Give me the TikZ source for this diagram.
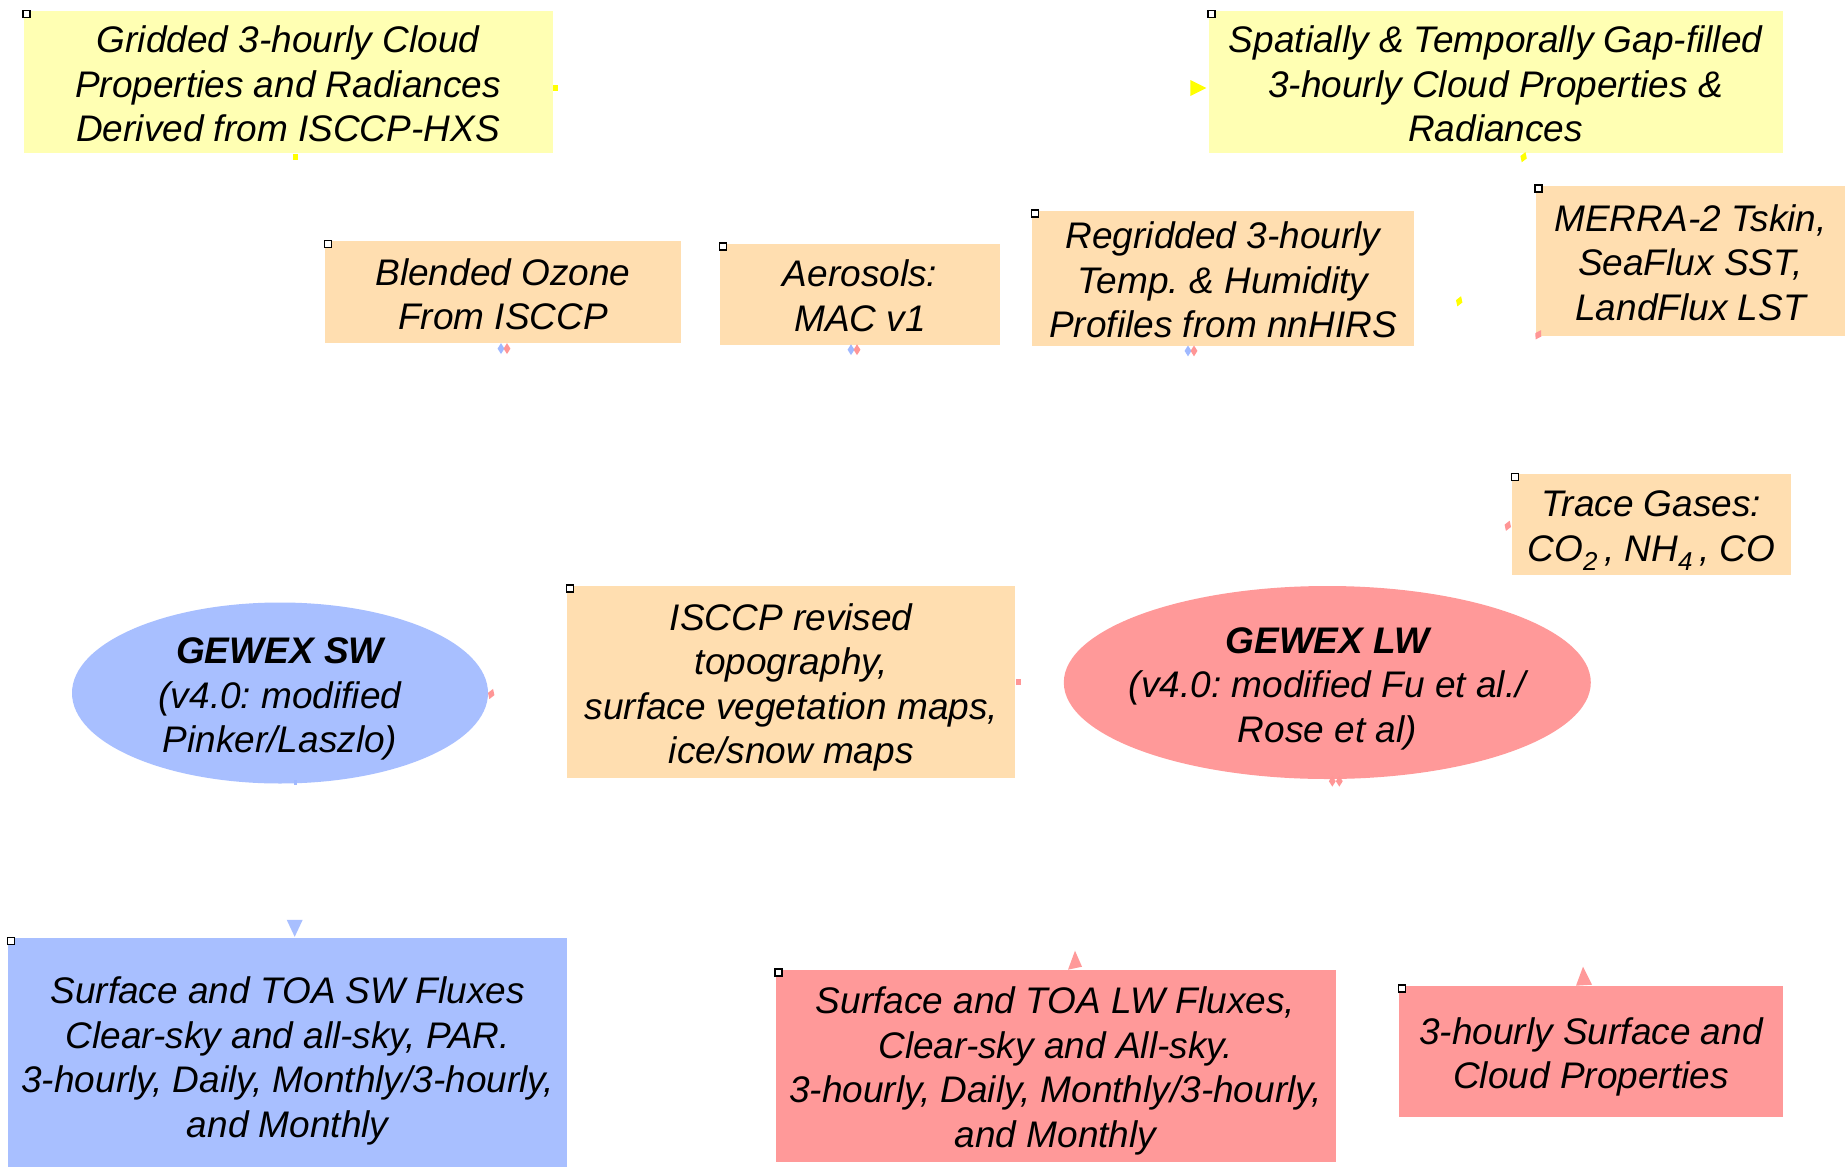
\documentclass[tikz,border=0pt]{standalone}
\usepackage{fontspec}
\setmainfont{Liberation Sans}
\usetikzlibrary{calc,shapes.geometric}
\definecolor{boxyellow}{RGB}{255,255,179}
\definecolor{boxorange}{RGB}{255,222,176}
\definecolor{boxblue}{RGB}{168,191,255}
\definecolor{boxpink}{RGB}{255,153,153}
\definecolor{mkyellow}{RGB}{255,255,0}
\definecolor{mkpink}{RGB}{255,150,150}
\definecolor{mkblue}{RGB}{160,185,255}
\newcommand{\tstrut}{\rule{0pt}{38pt}}
\newcommand{\bstrut}{\rule[-7.8pt]{0pt}{0pt}}
\frenchspacing
\tikzset{
  txt/.style={font=\fontsize{37}{44.5}\selectfont\itshape\frenchspacing, align=center, text=black},
  databox/.style={rectangle, inner sep=0pt, txt},
  ovalbox/.style={ellipse, inner sep=0pt},
  cornermark/.style={rectangle, draw=black, line width=1.5pt, fill=white, minimum size=7pt, inner sep=0pt},
  sqmark/.style={rectangle, inner sep=0pt, minimum width=5pt, minimum height=6pt},
  dmdmark/.style={diamond, inner sep=0pt, minimum width=7pt, minimum height=11pt},
}
\begin{document}
\begin{tikzpicture}[x=1pt,y=-1pt]
\fill[white] (0,0) rectangle (1845,1167);
\useasboundingbox (0,0) rectangle (1845,1167);

% boxes
\node[databox, fill=boxyellow, minimum width=529pt, minimum height=142pt] (grid) at (288,82)
  {\tstrut Gridded 3-hourly Cloud\\Properties and Radiances\\Derived from ISCCP-HXS\bstrut};
\node[databox, fill=boxyellow, minimum width=574pt, minimum height=142pt] (spat) at (1495.6,82)
  {\tstrut Spatially \& Temporally Gap-filled\\3-hourly Cloud Properties \&\\Radiances\bstrut};
\node[databox, fill=boxorange, minimum width=356pt, minimum height=102pt] (ozone) at (503,292.4)
  {\tstrut Blended Ozone\\From ISCCP\bstrut};
\node[databox, fill=boxorange, minimum width=280pt, minimum height=101pt] (aero) at (860,294)
  {\tstrut Aerosols:\\MAC v1\bstrut};
\node[databox, fill=boxorange, minimum width=382pt, minimum height=128pt] (regrid) at (1223,278.3)
  {\tstrut Regridded 3-hourly\\Temp. \& Humidity\\Profiles from nnHIRS\bstrut};
\node[databox, fill=boxorange, minimum width=310pt, minimum height=150pt] (merra) at (1690.5,260.6)
  {\tstrut MERRA-2 Tskin,\\SeaFlux SST,\\LandFlux LST\bstrut};
\node[databox, fill=boxorange, minimum width=279pt, minimum height=101pt] (trace) at (1651.5,524.8)
  {\tstrut Trace Gases:\\CO\textsubscript{2}\,, NH\textsubscript{4}\,, CO\bstrut};
\node[databox, fill=boxorange, minimum width=448pt, minimum height=192pt] (isccp) at (791.3,681.9)
  {\tstrut ISCCP revised\\topography,\\surface vegetation maps,\\ice/snow maps\bstrut};
\node[ovalbox, fill=boxblue, minimum width=416pt, minimum height=181pt] (sw) at (280,693) {};
\node[txt] (swtext) at (sw.center) {\tstrut\bfseries GEWEX SW\\(v4.0: modified\\Pinker/Laszlo)\bstrut};
\node[ovalbox, fill=boxpink, minimum width=527pt, minimum height=193pt] (lw) at (1327.3,682.5) {};
\node[txt] (lwtext) at (lw.center) {\tstrut\bfseries GEWEX LW\\(v4.0: modified Fu et al./\\Rose et al)\bstrut};
\node[databox, fill=boxblue, minimum width=559pt, minimum height=235pt] (swflux) at (287.7,1055.5)
  {\tstrut Surface and TOA SW Fluxes\\Clear-sky and all-sky, PAR.\\3-hourly, Daily, Monthly/3-hourly,\\and Monthly\bstrut};
\node[databox, fill=boxpink, minimum width=560pt, minimum height=192pt] (lwflux) at (1055.5,1065.5)
  {\tstrut Surface and TOA LW Fluxes,\\Clear-sky and All-sky.\\3-hourly, Daily, Monthly/3-hourly,\\and Monthly\bstrut};
\node[databox, fill=boxpink, minimum width=384pt, minimum height=131pt] (surf) at (1591,1051.4)
  {\tstrut 3-hourly Surface and\\Cloud Properties\bstrut};

% corner handles
\foreach \b in {grid,spat,ozone,aero,regrid,merra,trace,isccp,swflux,lwflux,surf}
  \node[cornermark] at ([shift={(3,3)}]\b.north west) {};

% connector remnants (arrow ends)
\node[sqmark, fill=mkyellow] (m1) at ([shift={(3,6)}]grid.east) {};
\node[sqmark, fill=mkyellow] (m2) at ([shift={(7,4)}]grid.south) {};
\fill[mkyellow] ([shift={(-2,6)}]spat.west) -- ++(-16,-8) -- ++(0,16) -- cycle;
\node[dmdmark, fill=mkyellow, rotate=-20] (m4) at ([shift={(28,4)}]spat.south) {};
\node[dmdmark, fill=mkyellow, rotate=-20] (m5) at ([shift={(45,23)}]regrid.east) {};
\node[dmdmark, fill=mkpink, rotate=-30] (m6) at ([shift={(3,-1)}]merra.south west) {};
\foreach \b/\dx in {ozone/1,aero/-6,regrid/-32}{
  \node[dmdmark, fill=mkblue] at ([shift={(\dx-3,5)}]\b.south) {};
  \node[dmdmark, fill=mkpink] at ([shift={(\dx+3,5)}]\b.south) {};
}
\node[dmdmark, fill=mkpink, rotate=-20] (m8) at ([shift={(-4,1)}]trace.west) {};
\node[dmdmark, fill=mkpink, rotate=-20] (m9) at ([shift={(3,1)}]sw.east) {};
\node[sqmark, fill=mkpink] (m10) at ([shift={(3,0)}]isccp.east) {};
\node[dmdmark, fill=mkpink] at ([shift={(5,2)}]lw.south) {};
\node[dmdmark, fill=mkpink] at ([shift={(12,2)}]lw.south) {};
\node[rectangle, inner sep=0pt, minimum width=3pt, minimum height=5pt, fill=mkblue] (m12) at ([shift={(15,-1)}]sw.south) {};
\fill[boxblue] ([shift={(7,-1)}]swflux.north) -- ++(-8,-17) -- ++(16,0) -- cycle;
\fill[boxpink] ([shift={(19.5,-18.6)}]lwflux.north) -- ([shift={(12.5,0.4)}]lwflux.north) -- ([shift={(26.5,-2.6)}]lwflux.north) -- cycle;
\fill[boxpink] ([shift={(-8,-19)}]surf.north) -- ([shift={(-15,0)}]surf.north) -- ([shift={(1,-1)}]surf.north) -- cycle;
\end{tikzpicture}
\end{document}
